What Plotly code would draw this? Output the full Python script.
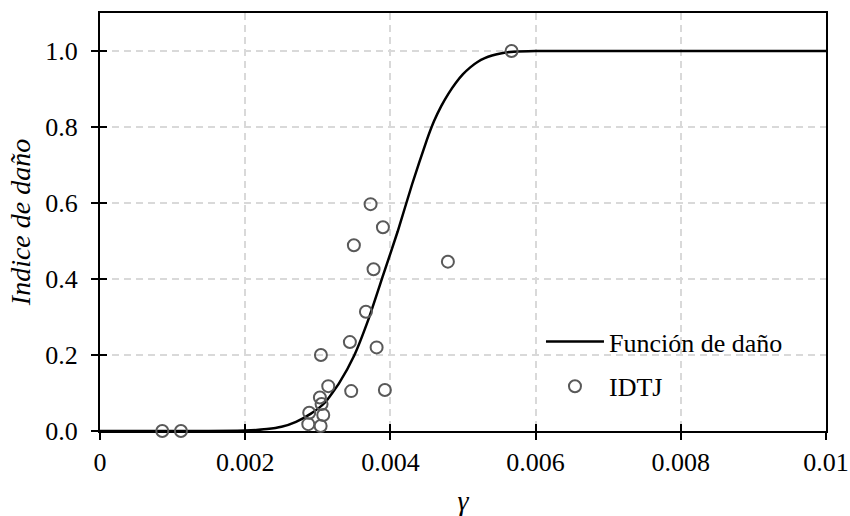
import plotly.graph_objects as go

# Damage function curve
curve_x = [0.0, 0.001, 0.0015, 0.002, 0.0023, 0.0025, 0.0027, 0.0029, 0.0031, 0.0033, 0.0035,
           0.0037, 0.0039, 0.0041, 0.0043, 0.0045, 0.0046, 0.0047, 0.0048, 0.0049, 0.005,
           0.0051, 0.0052, 0.0053, 0.0054, 0.0055, 0.0057, 0.006, 0.008, 0.01]
curve_y = [0.0, 0.0, 0.0, 0.001, 0.005, 0.011, 0.024, 0.045, 0.075, 0.128, 0.198,
           0.295, 0.41, 0.525, 0.65, 0.765, 0.815, 0.855, 0.888, 0.916, 0.939,
           0.957, 0.971, 0.981, 0.988, 0.993, 0.998, 1.0, 1.0, 1.0]

# IDTJ data points
idtj_x = [0.000858, 0.001115, 0.002869, 0.002882, 0.003039, 0.003075, 0.003052, 0.003029,
          0.003043, 0.003144, 0.00346, 0.003924, 0.003442, 0.00381, 0.003663, 0.003768,
          0.003497, 0.003897, 0.003727, 0.004792, 0.005669]
idtj_y = [0.0, 0.0, 0.018, 0.048, 0.013, 0.042, 0.071, 0.088,
          0.200, 0.118, 0.105, 0.108, 0.234, 0.220, 0.314, 0.4255,
          0.489, 0.536, 0.597, 0.4456, 1.0]

x_ticks = [0, 0.002, 0.004, 0.006, 0.008, 0.01]
x_tick_labels = ["0", "0.002", "0.004", "0.006", "0.008", "0.01"]
y_ticks = [0.0, 0.2, 0.4, 0.6, 0.8, 1.0]
y_tick_labels = ["0.0", "0.2", "0.4", "0.6", "0.8", "1.0"]

FONT = "Liberation Serif"
TICK_SIZE = 26
TITLE_SIZE = 28

fig = go.Figure()
fig.add_trace(go.Scatter(
    x=curve_x, y=curve_y, mode="lines", name="Función de daño",
    line=dict(color="black", width=2.5, shape="spline", smoothing=0.5),
    legendgroup="a", hoverinfo="skip"))
fig.add_trace(go.Scatter(
    x=idtj_x, y=idtj_y, mode="markers", name="IDTJ",
    marker=dict(symbol="circle-open", size=12, color="#595959", line=dict(width=2, color="#595959")),
    cliponaxis=False, legendgroup="b"))
# carrier trace for inside-tick overlay axes
fig.add_trace(go.Scatter(x=[None], y=[None], xaxis="x2", yaxis="y2", showlegend=False, hoverinfo="skip"))

grid = dict(showgrid=True, gridcolor="#d9d9d9", gridwidth=1.5, griddash="7px,5px")

fig.update_layout(
    width=850, height=516,
    margin=dict(l=100, r=24, t=13, b=85),
    paper_bgcolor="white", plot_bgcolor="white",
    font=dict(family=FONT, size=TICK_SIZE, color="black"),
    showlegend=True,
    legend=dict(x=0.6074, y=0.16, xanchor="left", yanchor="middle",
                bgcolor="rgba(0,0,0,0)", font=dict(size=TICK_SIZE, family=FONT),
                itemwidth=58, traceorder="grouped", tracegroupgap=8),
    xaxis=dict(range=[0, 0.01], tickvals=x_ticks, ticktext=x_tick_labels,
               showline=True, linecolor="black", linewidth=2, mirror=True,
               ticks="outside", ticklen=7, tickwidth=2, tickcolor="black",
               zeroline=False, layer="below traces", automargin=False,
               title=dict(text="<i>γ</i>", font=dict(size=TITLE_SIZE, family=FONT), standoff=16),
               **grid),
    yaxis=dict(range=[0, 1.1], tickvals=y_ticks, ticktext=y_tick_labels,
               showline=True, linecolor="black", linewidth=2, mirror=True,
               ticks="outside", ticklen=7, tickwidth=2, tickcolor="black",
               zeroline=False, layer="below traces", ticklabelstandoff=8, automargin=False,
               title=dict(text="<i>Indice de daño</i>", font=dict(size=TITLE_SIZE, family=FONT), standoff=6),
               **grid),
    xaxis2=dict(range=[0, 0.01], tickvals=x_ticks, overlaying="x", anchor="y2",
                ticks="inside", ticklen=7, tickwidth=2, tickcolor="black", automargin=False,
                showticklabels=False, showgrid=False, zeroline=False, showline=False),
    yaxis2=dict(range=[0, 1.1], tickvals=y_ticks, overlaying="y", anchor="x2",
                ticks="inside", ticklen=7, tickwidth=2, tickcolor="black", automargin=False,
                showticklabels=False, showgrid=False, zeroline=False, showline=False),
)

fig.write_html("out.html")
